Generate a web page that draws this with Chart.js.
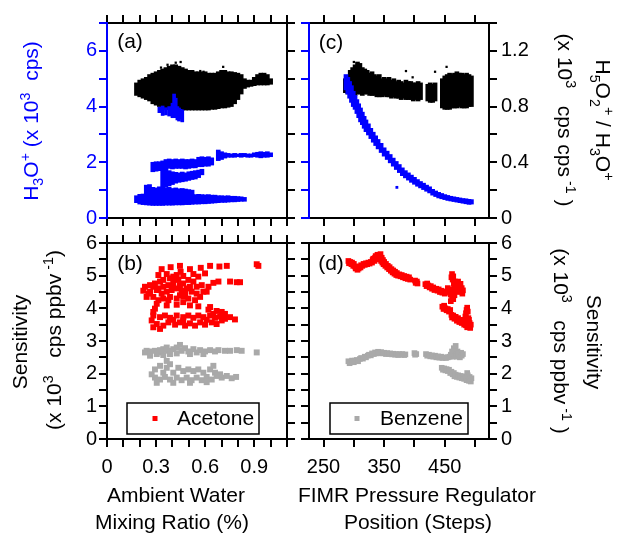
<!DOCTYPE html>
<html><head><meta charset="utf-8">
<script src="https://cdn.jsdelivr.net/npm/chart.js@4.4.0/dist/chart.umd.min.js"></script>
<style>
html,body{margin:0;padding:0;background:#fff;}
#wrap{position:relative;width:621px;height:533px;overflow:hidden;font-family:'Liberation Sans',Arial,sans-serif;}
canvas{position:absolute;left:0;top:0;}
.t{position:absolute;white-space:nowrap;font-size:21px;line-height:1;color:#000;transform:translate(-50%,-50%);}
.rl{transform:translate(-50%,-50%) rotate(-90deg);}
.rr{transform:translate(-50%,-50%) rotate(90deg);}
.t sub,.t sup{font-size:0.68em;line-height:0;}
.blue{color:#0000ff;}
</style></head><body>
<div id="wrap">
<canvas id="cA" width="621" height="533"></canvas>
<canvas id="cB" width="621" height="533"></canvas>
<canvas id="cC" width="621" height="533"></canvas>
<canvas id="cD" width="621" height="533"></canvas>
<div class="t rl blue" style="left:30px;top:121px;">H<sub>3</sub>O<sup>+</sup> (x 10<sup>3</sup>&nbsp; cps)</div>
<div class="t rl" style="left:19px;top:342px;">Sensitivity</div>
<div class="t rl" style="left:53px;top:340px;">(x 10<sup>3</sup>&nbsp;&nbsp; cps ppbv<sup> -1</sup>)</div>
<div class="t rr" style="left:603px;top:120px;">H<sub>5</sub>O<sub>2</sub><sup>+</sup> / H<sub>3</sub>O<sup>+</sup></div>
<div class="t rr" style="left:565px;top:120px;">(x 10<sup>3</sup>&nbsp;&nbsp; cps cps<sup> -1</sup> )</div>
<div class="t rr" style="left:561px;top:341px;">(x 10<sup>3</sup>&nbsp;&nbsp; cps ppbv<sup> -1</sup> )</div>
<div class="t rr" style="left:594px;top:342px;">Sensitivity</div>
<div class="t" style="left:176px;top:494px;">Ambient Water</div>
<div class="t" style="left:172px;top:521px;">Mixing Ratio (%)</div>
<div class="t" style="left:417px;top:494px;">FIMR Pressure Regulator</div>
<div class="t" style="left:418px;top:521px;">Position (Steps)</div>
<div class="t" style="left:130px;top:40px;">(a)</div>
<div class="t" style="left:130px;top:262px;">(b)</div>
<div class="t" style="left:331px;top:41px;">(c)</div>
<div class="t" style="left:331px;top:262px;">(d)</div>
</div>
<script>
// ---------- axes: ranges, ticks, tick labels ----------
const waterRange = [0, 1.1];
const waterTicks = [0, 0.1, 0.2, 0.3, 0.4, 0.5, 0.6, 0.7, 0.8, 0.9, 1.0, 1.1];
const waterLabels = [0, 0.3, 0.6, 0.9];
const stepRange = [226, 523];
const stepTicks = [250, 300, 350, 400, 450, 500];
const stepLabels = [250, 350, 450];
const h3oRange = [0, 7];
const h3oTicks = [0, 1, 2, 3, 4, 5, 6, 7];
const h3oLabels = [0, 2, 4, 6];
const ratioRange = [0, 1.4];
const ratioTicks = [0, 0.2, 0.4, 0.6, 0.8, 1, 1.2, 1.4];
const ratioLabels = [0, 0.4, 0.8, 1.2];
const sensRange = [0, 6];
const sensTicks = [0, 0.5, 1, 1.5, 2, 2.5, 3, 3.5, 4, 4.5, 5, 5.5, 6];
const sensLabels = [0, 1, 2, 3, 4, 5, 6];

// ---------- (a) H5O2+/H3O+ ratio vs water: [x, low, high] ----------
const ratioVsWater = [
[0.18,0.88,0.97],[0.20,0.87,0.99],[0.22,0.86,1.00],[0.24,0.85,1.01],[0.26,0.84,1.03],[0.28,0.82,1.04],
[0.30,0.81,1.05],[0.32,0.80,1.06],[0.34,0.79,1.07],[0.36,0.78,1.08],[0.38,0.78,1.09],[0.40,0.775,1.10],
[0.42,0.775,1.10],[0.44,0.775,1.09],[0.46,0.775,1.08],[0.48,0.775,1.07],[0.50,0.775,1.06],[0.52,0.775,1.06],
[0.54,0.775,1.05],[0.56,0.775,1.05],[0.58,0.775,1.05],[0.60,0.775,1.05],[0.62,0.775,1.04],[0.64,0.78,1.04],
[0.66,0.78,1.04],[0.68,0.785,1.05],[0.70,0.79,1.06],[0.72,0.79,1.06],[0.74,0.795,1.05],[0.76,0.80,1.05],
[0.78,0.82,1.045],[0.80,0.85,1.04],[0.82,0.89,1.03],[0.84,0.93,1.00],[0.86,0.94,0.99],[0.88,0.945,0.99],
[0.90,0.95,1.01],[0.92,0.955,1.03],[0.94,0.955,1.04],[0.96,0.955,1.04],[0.98,0.955,1.03],[1.00,0.96,1.00]
];
const ratioVsWaterDots = [[0.37,1.10],[0.42,1.115],[0.45,1.12],[0.57,1.055],[0.59,1.05],[0.71,1.085],[0.33,1.08]];

// ---------- (a) H3O+ vs water, bands: [x, low, high] ----------
const h3oWaterLow = [
[0.18,0.55,0.80],[0.20,0.50,0.85],[0.22,0.48,0.86],[0.24,0.47,0.88],[0.26,0.46,0.88],[0.28,0.45,0.90],
[0.30,0.45,0.90],[0.32,0.45,0.88],[0.34,0.45,0.88],[0.36,0.46,0.90],[0.38,0.46,0.88],[0.40,0.46,0.86],
[0.42,0.47,0.88],[0.44,0.47,0.86],[0.46,0.47,0.85],[0.48,0.48,0.86],[0.50,0.48,0.84],[0.52,0.49,0.85],
[0.54,0.50,0.84],[0.56,0.50,0.85],[0.58,0.51,0.84],[0.60,0.51,0.83],[0.62,0.52,0.84],[0.64,0.53,0.82],
[0.66,0.54,0.82],[0.68,0.55,0.80],[0.70,0.56,0.80],[0.72,0.56,0.79],[0.74,0.57,0.80],[0.76,0.58,0.78],
[0.78,0.58,0.78],[0.80,0.59,0.77],[0.82,0.60,0.76],[0.84,0.60,0.74]
];
const h3oWaterSecond = [
[0.24,0.80,1.18],[0.26,0.80,1.20],[0.28,0.82,1.10],[0.30,0.82,1.08],[0.32,0.82,1.12],[0.34,0.82,1.10],
[0.36,0.82,1.08],[0.38,0.82,1.10],[0.40,0.82,1.06],[0.42,0.82,1.08],[0.44,0.82,1.05],[0.46,0.82,1.06],
[0.48,0.82,1.04],[0.50,0.82,1.02],[0.52,0.82,1.00]
];
const h3oWaterMiddle = [
[0.34,1.05,1.72],[0.36,1.10,1.75],[0.38,1.15,1.70],[0.40,1.20,1.66],[0.42,1.25,1.64],[0.44,1.28,1.62],
[0.46,1.30,1.65],[0.48,1.32,1.62],[0.50,1.35,1.66],[0.52,1.38,1.68],[0.54,1.40,1.70],[0.56,1.45,1.72],
[0.58,1.55,1.75]
];
const h3oWaterUpper = [
[0.28,1.66,2.00],[0.30,1.68,2.02],[0.32,1.70,2.02],[0.34,1.72,2.05],[0.36,1.75,2.10],[0.38,1.78,2.12],
[0.40,1.76,2.10],[0.42,1.78,2.12],[0.44,1.78,2.10],[0.46,1.78,2.12],[0.48,1.76,2.10],[0.50,1.78,2.10],
[0.52,1.80,2.12],[0.54,1.80,2.10],[0.56,1.84,2.18],[0.58,1.84,2.20],[0.60,1.86,2.18],[0.62,1.86,2.20],
[0.64,1.90,2.16]
];
const h3oWaterRight = [
[0.68,2.06,2.44],[0.70,2.10,2.38],[0.72,2.15,2.34],[0.74,2.18,2.32],[0.76,2.18,2.30],[0.78,2.18,2.32],
[0.80,2.20,2.30],[0.82,2.18,2.32],[0.84,2.20,2.32],[0.86,2.18,2.30],[0.88,2.18,2.30],[0.90,2.20,2.34],
[0.92,2.18,2.36],[0.94,2.16,2.38],[0.96,2.18,2.36],[0.98,2.18,2.38],[1.00,2.20,2.34]
];
const h3oWaterSpike = [
[0.32,3.78,3.98],[0.34,3.68,4.02],[0.36,3.70,3.96],[0.38,3.66,4.00],[0.40,3.60,4.12],[0.41,3.70,4.45],
[0.42,3.60,4.30],[0.43,3.52,4.00],[0.44,3.48,3.95],[0.45,3.55,3.90],[0.46,3.45,3.88]
];

// ---------- (c) vs FIMR regulator position: [x, low, high] ----------
const ratioVsStep = [
[286,0.90,1.00],[290,0.89,1.02],[294,0.89,1.06],[298,0.88,1.08],[302,0.88,1.10],[306,0.89,1.12],
[310,0.89,1.11],[314,0.88,1.08],[318,0.89,1.07],[322,0.89,1.06],[326,0.88,1.04],[330,0.88,1.05],
[334,0.88,1.03],[338,0.87,1.02],[342,0.87,1.03],[346,0.87,1.00],[350,0.88,1.01],[354,0.87,1.00],
[358,0.87,1.01],[362,0.86,0.99],[366,0.87,1.00],[370,0.86,0.98],[374,0.86,0.99],[378,0.85,0.98],
[382,0.86,0.97],[386,0.85,0.99],[390,0.85,0.98],[394,0.85,0.98],[398,0.84,0.97],[402,0.85,0.97],
[406,0.84,0.98],[410,0.85,0.97],[422,0.84,0.96],[426,0.83,0.97],[430,0.83,0.96],[434,0.84,0.97],
[446,0.79,1.00],[450,0.78,1.02],[454,0.78,1.03],[458,0.78,1.04],[462,0.79,1.03],[466,0.79,1.04],
[470,0.79,1.05],[474,0.80,1.04],[478,0.79,1.04],[482,0.79,1.03],[486,0.79,1.04],[490,0.80,1.03],
[494,0.80,1.02]
];
const ratioVsStepDots = [[386,1.055],[397,1.01],[434,1.05],[453,1.085],[300,1.12]];
const h3oVsStep = [
[287,4.60,5.15],[290,4.45,5.05],[293,4.30,4.90],[296,4.15,4.75],[299,4.00,4.55],[302,3.90,4.40],
[305,3.75,4.25],[308,3.60,4.10],[311,3.45,3.95],[314,3.35,3.80],[317,3.22,3.65],[320,3.10,3.52],
[324,2.98,3.38],[328,2.85,3.22],[332,2.72,3.08],[336,2.60,2.95],[340,2.48,2.82],[345,2.35,2.68],
[350,2.22,2.52],[355,2.10,2.40],[360,1.98,2.28],[365,1.86,2.15],[370,1.74,2.03],[375,1.63,1.92],
[380,1.52,1.80],[385,1.44,1.70],[390,1.36,1.62],[395,1.28,1.54],[400,1.21,1.46],[405,1.14,1.38],
[410,1.08,1.31],[415,1.02,1.25],[420,0.96,1.18],[425,0.90,1.12],[430,0.82,1.03],[435,0.77,0.97],
[440,0.72,0.92],[445,0.69,0.88],[450,0.66,0.84],[455,0.63,0.81],[460,0.61,0.78],[465,0.59,0.76],
[470,0.57,0.74],[475,0.55,0.72],[480,0.53,0.70],[485,0.51,0.69],[490,0.49,0.67],[494,0.50,0.66]
];
const h3oVsStepDots = [[371,1.10]];

// ---------- (b) sensitivity vs water: [x, y] ----------
const acetoneVsWater = [
[0.334,5.20],[0.389,5.26],[0.446,5.30],[0.450,5.12],[0.507,5.20],[0.573,5.24],[0.630,5.30],[0.687,5.28],
[0.732,5.30],[0.915,5.35],[0.925,5.30],[0.314,5.02],[0.365,5.05],[0.405,4.97],[0.466,4.99],[0.528,5.05],
[0.558,4.97],[0.599,5.07],[0.650,4.78],[0.681,4.82],[0.752,4.82],[0.813,4.80],[0.793,4.80],[0.232,4.66],
[0.263,4.71],[0.293,4.76],[0.324,4.82],[0.344,4.66],[0.375,4.71],[0.405,4.82],[0.436,4.87],[0.466,4.76],
[0.497,4.87],[0.528,4.82],[0.548,4.66],[0.579,4.71],[0.620,4.66],[0.263,4.51],[0.304,4.56],[0.334,4.45],
[0.365,4.51],[0.395,4.56],[0.426,4.61],[0.456,4.54],[0.487,4.61],[0.517,4.51],[0.548,4.45],[0.589,4.51],
[0.242,4.35],[0.283,4.35],[0.314,4.25],[0.344,4.30],[0.385,4.35],[0.426,4.30],[0.466,4.37],[0.497,4.30],
[0.538,4.25],[0.569,4.35],[0.222,4.54],[0.283,4.66],[0.314,4.61],[0.405,4.66],[0.446,4.71],[0.477,4.45],
[0.507,4.66],[0.385,4.92],[0.426,5.02],[0.344,4.87],[0.253,4.45],[0.375,4.25],[0.466,4.19],[0.609,4.51],
[0.446,4.40],[0.304,4.14],[0.365,4.09],[0.426,4.11],[0.507,4.09],[0.558,4.06],[0.630,4.04],[0.620,3.96],
[0.293,3.99],[0.283,3.89],[0.283,3.78],[0.324,3.73],[0.354,3.78],[0.385,3.71],[0.426,3.78],[0.466,3.73],
[0.497,3.78],[0.528,3.71],[0.558,3.78],[0.589,3.73],[0.630,3.78],[0.660,3.71],[0.691,3.75],[0.721,3.83],
[0.752,3.73],[0.782,3.66],[0.304,3.52],[0.344,3.47],[0.375,3.57],[0.416,3.50],[0.446,3.57],[0.477,3.47],
[0.507,3.54],[0.538,3.47],[0.569,3.57],[0.599,3.50],[0.640,3.57],[0.670,3.52],[0.701,3.63],[0.283,3.42],
[0.273,3.63],[0.701,3.89],[0.670,3.92],[0.650,3.83],[0.405,3.65],[0.466,3.63],[0.609,3.65],[0.721,3.68],
[0.324,3.37]
];
const benzeneVsWater = [
[0.232,2.65],[0.242,2.70],[0.263,2.68],[0.293,2.70],[0.304,2.60],[0.334,2.65],[0.344,2.75],[0.375,2.70],
[0.385,2.60],[0.405,2.75],[0.426,2.80],[0.446,2.88],[0.456,2.70],[0.477,2.78],[0.497,2.68],[0.528,2.75],
[0.548,2.65],[0.569,2.72],[0.599,2.68],[0.630,2.72],[0.660,2.68],[0.681,2.72],[0.721,2.70],[0.752,2.70],
[0.793,2.72],[0.823,2.70],[0.915,2.65],[0.263,2.55],[0.344,2.57],[0.426,2.62],[0.507,2.60],[0.589,2.60],
[0.365,2.80],[0.324,2.72],[0.293,2.13],[0.324,2.24],[0.344,2.03],[0.365,2.18],[0.385,2.29],[0.405,2.03],
[0.436,2.18],[0.466,2.08],[0.497,2.13],[0.528,2.08],[0.558,2.13],[0.589,2.03],[0.630,2.13],[0.660,2.03],
[0.293,1.88],[0.324,1.82],[0.354,1.90],[0.385,1.82],[0.426,1.88],[0.456,1.80],[0.487,1.88],[0.517,1.80],
[0.548,1.88],[0.579,1.80],[0.609,1.90],[0.640,1.82],[0.670,1.93],[0.701,1.88],[0.732,1.93],[0.762,1.86],
[0.789,1.90],[0.304,1.72],[0.405,1.72],[0.507,1.72],[0.609,1.74],[0.691,1.98],[0.650,2.24],[0.365,2.39],
[0.273,1.98]
];

// ---------- (d) sensitivity vs FIMR position: [x, y] ----------
const acetoneVsStep = [
[291,5.45],[292,5.38],[294,5.42],[296,5.35],[297,5.40],[299,5.30],[300,5.36],[302,5.28],[303,5.22],
[305,5.25],[306,5.18],[308,5.22],[309,5.28],[311,5.25],[312,5.32],[314,5.30],[316,5.36],[318,5.33],
[320,5.38],[322,5.35],[324,5.40],[326,5.37],[328,5.42],[330,5.40],[331,5.48],[332,5.52],[334,5.45],
[335,5.55],[336,5.60],[337,5.50],[338,5.58],[339,5.64],[340,5.55],[341,5.62],[342,5.50],[343,5.58],
[344,5.66],[345,5.45],[346,5.55],[347,5.40],[348,5.48],[349,5.35],[350,5.42],[352,5.30],[353,5.36],
[355,5.25],[356,5.30],[358,5.20],[359,5.26],[361,5.15],[362,5.20],[364,5.10],[365,5.16],[367,5.06],
[368,5.12],[370,5.02],[371,5.08],[373,5.00],[375,5.04],[377,4.98],[379,5.02],[381,4.95],[383,4.99],
[385,4.92],[387,4.97],[389,4.90],[391,4.95],[393,4.88],[401,4.85],[402,4.78],[404,4.82],[405,4.76],
[418,4.74],[420,4.68],[421,4.76],[423,4.70],[425,4.64],[427,4.68],[429,4.60],[431,4.64],[433,4.56],
[436,4.60],[438,4.54],[440,4.58],[442,4.50],[444,4.54],[446,4.48],[448,4.52],[450,4.45],[452,4.50],
[455,4.62],[456,4.52],[458,4.58],[459,4.48],[460,4.42],[461,4.95],[462,5.05],[463,4.88],[464,4.98],
[465,4.75],[466,4.62],[467,4.82],[468,4.55],[469,4.70],[470,4.78],[471,4.62],[472,4.82],[473,4.50],
[474,4.70],[475,4.60],[476,4.75],[477,4.52],[478,4.62],[479,4.45],[480,4.55],[462,4.35],[464,4.28],
[466,4.40],[460,4.22],[446,4.05],[448,3.98],[449,4.08],[451,4.00],[453,3.94],[455,3.98],[457,3.90],
[459,3.95],[461,3.80],[462,3.72],[464,3.78],[466,3.68],[468,3.74],[470,3.62],[472,3.70],[474,3.58],
[476,3.65],[478,3.55],[480,3.62],[482,3.50],[483,3.60],[485,3.48],[486,3.58],[487,3.42],[488,3.52],
[490,3.45],[491,3.55],[492,3.40],[493,3.50],[484,3.75],[485,3.85],[486,3.95],[487,4.02],[488,3.90],
[489,3.70],[490,3.65]
];
const benzeneVsStep = [
[291,2.38],[293,2.32],[295,2.36],[297,2.40],[300,2.35],[302,2.40],[305,2.42],[307,2.38],[310,2.45],
[312,2.48],[315,2.46],[318,2.52],[320,2.50],[323,2.55],[325,2.58],[328,2.56],[330,2.62],[333,2.60],
[335,2.65],[338,2.62],[340,2.67],[343,2.63],[345,2.66],[348,2.62],[350,2.64],[353,2.60],[355,2.63],
[358,2.60],[360,2.62],[363,2.59],[365,2.61],[368,2.58],[370,2.60],[373,2.57],[375,2.60],[378,2.58],
[380,2.60],[383,2.57],[385,2.59],[400,2.63],[401,2.58],[403,2.60],[419,2.60],[421,2.55],[424,2.58],
[426,2.53],[429,2.56],[431,2.52],[434,2.55],[436,2.50],[439,2.53],[441,2.49],[444,2.52],[446,2.48],
[449,2.50],[452,2.48],[455,2.50],[458,2.52],[460,2.58],[462,2.68],[463,2.52],[464,2.62],[465,2.78],
[466,2.55],[467,2.70],[468,2.85],[469,2.60],[470,2.52],[471,2.68],[472,2.58],[474,2.62],[475,2.50],
[477,2.64],[478,2.55],[480,2.60],[445,2.18],[447,2.12],[449,2.16],[451,2.10],[453,2.14],[455,2.08],
[457,2.12],[459,2.02],[461,2.06],[463,1.98],[465,2.02],[466,1.92],[468,1.97],[470,1.90],[472,1.95],
[474,1.88],[476,1.93],[478,1.86],[480,1.92],[482,1.84],[484,1.90],[486,1.80],[487,2.02],[488,1.95],
[489,1.85],[490,1.78],[491,1.90],[492,1.82],[493,1.76],[494,1.86]
];

// ---------- rendering ----------
const W = 621, H = 533;
const FONT = "'Liberation Sans', Arial, sans-serif";
const BLUE = '#0000ff', BLACK = '#000000', RED = '#ff0000', GREY = '#a9a9a9';
Chart.defaults.font.family = FONT;

function axis(pos, range, ticks, labels, color, pad) {
  const horiz = pos === 'top' || pos === 'bottom';
  const box = labels ? 50 : 10;
  return {
    type: 'linear', position: pos, min: range[0], max: range[1], offset: false, bounds: 'data',
    boxSize: box,
    afterBuildTicks: s => { s.ticks = ticks.map(v => ({value: v})); },
    afterFit: s => { if (horiz) s.height = box; else s.width = box; },
    grid: {display: true, drawOnChartArea: false, drawTicks: true, tickLength: 8, tickWidth: 2,
           tickColor: color, color: color, lineWidth: 2, offset: false},
    border: {display: true, color: color, width: 2},
    ticks: {display: !!labels, autoSkip: false, maxRotation: 0, minRotation: 0, color: color,
            padding: pad == null ? 3 : pad, font: {family: FONT, size: 20},
            callback: v => (labels && labels.indexOf(v) >= 0) ? String(v) : ''}
  };
}
function band(rows, color, yAxisID, thick) {
  return {type: 'bar', data: rows.map(r => ({x: r[0], y: [r[1], r[2]]})), backgroundColor: color,
          borderWidth: 0, barThickness: thick, grouped: false, xAxisID: 'x', yAxisID: yAxisID};
}
function dots(rows, color, yAxisID, radius, label) {
  return {type: 'scatter', label: label || '', data: rows.map(r => ({x: r[0], y: r[1]})), pointStyle: 'rect',
          pointRadius: radius, pointBackgroundColor: color, pointBorderColor: color, pointBorderWidth: 0,
          backgroundColor: color, showLine: false, xAxisID: 'x', yAxisID: yAxisID};
}
const legendBoxPlugin = {
  id: 'legendBox',
  afterDraw(chart, args, o) {
    if (!o || o.dataset == null) return;
    const ds = chart.data.datasets[o.dataset];
    const a = chart.chartArea, ctx = chart.ctx;
    const x = a.left + o.x, y = a.top + o.y;
    ctx.save();
    ctx.fillStyle = '#fff'; ctx.fillRect(x, y, o.w, o.h);
    ctx.strokeStyle = '#000'; ctx.lineWidth = 1.5; ctx.strokeRect(x, y, o.w, o.h);
    ctx.fillStyle = ds.pointBackgroundColor;
    ctx.fillRect(x + o.mx - 2.5, y + o.h / 2 - 2.5, 5, 5);
    ctx.fillStyle = '#000'; ctx.font = '21px ' + FONT; ctx.textBaseline = 'middle'; ctx.textAlign = 'left';
    ctx.fillText(ds.label, x + o.tx, y + o.h / 2 + 1);
    ctx.restore();
  }
};
function panel(id, rect, scales, datasets, legendOpt) {
  const side = {left: 0, right: 0, top: 0, bottom: 0};
  Object.values(scales).forEach(s => { side[s.position] = s.boxSize; });
  return new Chart(document.getElementById(id), {
    type: 'scatter',
    data: {datasets: datasets},
    options: {
      responsive: false, maintainAspectRatio: false, animation: false, devicePixelRatio: 1, events: [],
      layout: {padding: {left: rect.l - side.left, top: rect.t - side.top,
                         right: W - rect.r - side.right, bottom: H - rect.b - side.bottom}},
      plugins: {legend: {display: false}, tooltip: {enabled: false}, legendBox: legendOpt || false},
      scales: scales
    },
    plugins: [legendBoxPlugin]
  });
}

// (a)
panel('cA', {l: 107, t: 23, r: 287, b: 218}, {
  x: axis('bottom', waterRange, waterTicks, null, BLACK),
  x2: axis('top', waterRange, waterTicks, null, BLACK),
  y: axis('left', h3oRange, h3oTicks, h3oLabels, BLUE, 2),
  y2: axis('right', ratioRange, ratioTicks, null, BLACK)
}, [
  band(h3oWaterSpike, BLUE, 'y', 3),
  band(h3oWaterRight, BLUE, 'y', 4),
  band(h3oWaterUpper, BLUE, 'y', 4),
  band(h3oWaterMiddle, BLUE, 'y', 4),
  band(h3oWaterSecond, BLUE, 'y', 4),
  band(h3oWaterLow, BLUE, 'y', 4),
  dots(ratioVsWaterDots, BLACK, 'y2', 1.6),
  band(ratioVsWater, BLACK, 'y2', 4)
]);

// (c)
panel('cC', {l: 309, t: 23, r: 489, b: 218}, {
  x: axis('bottom', stepRange, stepTicks, null, BLACK),
  x2: axis('top', stepRange, stepTicks, null, BLACK),
  y: axis('left', h3oRange, h3oTicks, null, BLUE),
  y2: axis('right', ratioRange, ratioTicks, ratioLabels, BLACK, 4)
}, [
  dots(h3oVsStepDots, BLUE, 'y', 2),
  band(h3oVsStep, BLUE, 'y', 4),
  dots(ratioVsStepDots, BLACK, 'y2', 1.6),
  band(ratioVsStep, BLACK, 'y2', 4)
]);

// (b)
panel('cB', {l: 107, t: 243, r: 287, b: 439}, {
  x: axis('bottom', waterRange, waterTicks, waterLabels, BLACK, 8),
  x2: axis('top', waterRange, waterTicks, null, BLACK),
  y: axis('left', sensRange, sensTicks, sensLabels, BLACK, 2),
  y2: axis('right', sensRange, sensTicks, null, BLACK)
}, [
  dots(acetoneVsWater, RED, 'y', 4.2, 'Acetone'),
  dots(benzeneVsWater, GREY, 'y', 4.2, 'Benzene')
], {dataset: 0, x: 20, y: 160, w: 132, h: 31, mx: 28, tx: 50});

// (d)
panel('cD', {l: 309, t: 243, r: 489, b: 439}, {
  x: axis('bottom', stepRange, stepTicks, stepLabels, BLACK, 8),
  x2: axis('top', stepRange, stepTicks, null, BLACK),
  y: axis('left', sensRange, sensTicks, null, BLACK),
  y2: axis('right', sensRange, sensTicks, sensLabels, BLACK, 4)
}, [
  dots(acetoneVsStep, RED, 'y', 4, 'Acetone'),
  dots(benzeneVsStep, GREY, 'y', 4, 'Benzene')
], {dataset: 1, x: 21, y: 160, w: 138, h: 31, mx: 27, tx: 50});
</script>
</body></html>
